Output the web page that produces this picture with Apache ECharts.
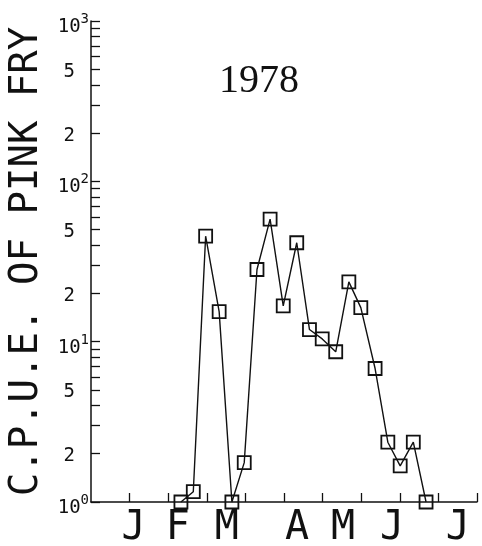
<!DOCTYPE html>
<html>
<head>
<meta charset="utf-8">
<script src="https://cdn.jsdelivr.net/npm/echarts@6/dist/echarts.min.js"></script>
<style>
  html, body { margin: 0; padding: 0; background: #fff; }
  #chart { width: 482px; height: 546px; }
</style>
</head>
<body>
<div id="chart"></div>
<script>
// sampling positions (x axis units, ticks at 0..10)
const samplePos = [2.33, 2.65, 2.97, 3.32, 3.65, 3.97, 4.30, 4.64, 4.98, 5.33,
  5.66, 5.99, 6.34, 6.68, 6.99, 7.36, 7.69, 8.01, 8.35, 8.68];
// C.P.U.E. values
const cpue = [1.0, 1.16, 45.5, 15.4, 1.0, 1.76, 28.2, 58.1, 16.7, 41.4,
  11.9, 10.4, 8.65, 23.6, 16.3, 6.8, 2.36, 1.68, 2.36, 1.0];

const monthLabels = ['J', 'F', 'M', 'A', 'M', 'J', 'J'];
const monthPos = [1.1, 2.25, 3.52, 5.34, 6.53, 7.8, 9.5];
const xTicks = [1, 2, 3, 4, 5, 6, 7, 8, 9, 10];
const yLabelValues = [1, 2, 5, 10, 20, 50, 100, 200, 500, 1000];
const yTickValues = [1, 2, 3, 4, 5, 6, 7, 8, 9, 10, 20, 30, 40, 50, 60, 70, 80, 90,
  100, 200, 300, 400, 500, 600, 700, 800, 900, 1000];

const ink = '#111';

// 10^n with superscript, 2 and 5 plain
function yLabel(v) {
  const e = Math.round(Math.log10(v));
  if (Math.abs(v - Math.pow(10, e)) < 1e-6) {
    return '{b|10}{s|' + e + '}';
  }
  return '{m|' + Math.round(v / Math.pow(10, Math.floor(Math.log10(v) + 1e-9))) + '}';
}

var myChart = echarts.init(document.getElementById('chart'));
var option = {
  animation: false,
  backgroundColor: '#fff',
  title: {
    text: '1978',
    left: 214,
    top: 56,
    textStyle: {
      fontFamily: 'Liberation Serif',
      fontWeight: 'normal',
      fontSize: 40,
      color: ink
    }
  },
  grid: {
    left: 91,
    top: 21,
    width: 386,
    height: 481,
    outerBoundsMode: 'none'
  },
  xAxis: {
    type: 'value',
    min: 0,
    max: 10,
    interval: 1,
    splitLine: { show: false },
    axisLine: { lineStyle: { color: ink, width: 1.5 } },
    axisTick: {
      inside: true,
      length: 9,
      customValues: xTicks,
      lineStyle: { color: ink, width: 1.3 }
    },
    axisLabel: {
      customValues: monthPos,
      formatter: function (v) {
        return monthLabels[monthPos.indexOf(v)];
      },
      margin: 12,
      fontFamily: 'DejaVu Sans Mono',
      fontSize: 40,
      lineHeight: 30,
      color: ink
    }
  },
  yAxis: {
    type: 'log',
    logBase: 10,
    min: 1,
    max: 1000,
    name: 'C.P.U.E. OF PINK FRY',
    nameLocation: 'middle',
    nameRotate: 90,
    nameGap: 44,
    nameTextStyle: {
      fontFamily: 'DejaVu Sans Mono',
      fontSize: 39,
      color: ink
    },
    splitLine: { show: false },
    axisLine: { show: true, lineStyle: { color: ink, width: 1.5 } },
    axisTick: {
      inside: true,
      length: 9,
      customValues: yTickValues,
      lineStyle: { color: ink, width: 1.3 }
    },
    axisLabel: {
      customValues: yLabelValues,
      formatter: yLabel,
      margin: 2,
      padding: [5, 0, 0, 0],
      color: ink,
      rich: {
        b: { fontFamily: 'DejaVu Sans Mono', fontSize: 19, lineHeight: 26, verticalAlign: 'bottom', color: ink },
        s: { fontFamily: 'DejaVu Sans Mono', fontSize: 14, lineHeight: 26, verticalAlign: 'top', padding: [2, 0, 0, 0], color: ink },
        m: { fontFamily: 'DejaVu Sans Mono', fontSize: 19, padding: [0, 14, 0, 0], color: ink }
      }
    }
  },
  series: [
    {
      type: 'line',
      data: samplePos.map(function (x, i) { return [x, cpue[i]]; }),
      symbol: 'rect',
      symbolSize: 13,
      showAllSymbol: true,
      itemStyle: {
        color: 'rgba(0,0,0,0)',
        borderColor: ink,
        borderWidth: 1.8
      },
      lineStyle: { color: ink, width: 1.4 }
    }
  ]
};
myChart.setOption(option);

window.addEventListener('resize', function () {
  myChart.resize();
});
</script>
</body>
</html>
